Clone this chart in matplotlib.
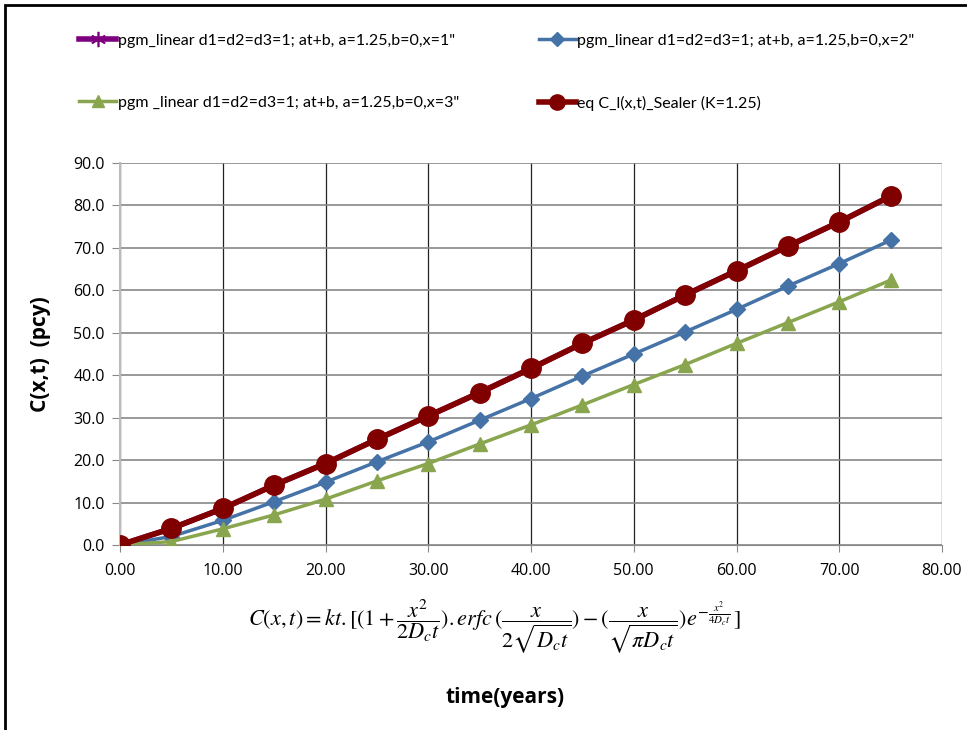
import matplotlib.pyplot as plt
from matplotlib.lines import Line2D
from matplotlib.patches import Rectangle

plt.rcParams['font.family'] = ['Open Sans', 'DejaVu Sans']
plt.rcParams['mathtext.fontset'] = 'stix'

# time (years)
t = [0, 5, 10, 15, 20, 25, 30, 35, 40, 45, 50, 55, 60, 65, 70, 75]

# pgm linear, x=1"  (same as the sealer equation)
c_x1 = [0.0, 3.9, 8.6, 14.1, 19.2, 24.9, 30.4, 35.9, 41.6, 47.5, 53.0, 58.9, 64.6, 70.4, 76.1, 82.2]
# pgm linear, x=2"
c_x2 = [0.0, 2.0, 5.8, 10.2, 14.8, 19.6, 24.3, 29.4, 34.5, 39.8, 45.0, 50.2, 55.5, 61.0, 66.3, 71.8]
# pgm linear, x=3"
c_x3 = [0.0, 0.8, 3.8, 7.1, 10.8, 15.1, 19.2, 23.8, 28.3, 33.0, 37.8, 42.5, 47.5, 52.4, 57.3, 62.4]
# eq C_l(x,t) Sealer
c_eq = [0.0, 3.9, 8.6, 14.1, 19.2, 24.9, 30.4, 35.9, 41.6, 47.5, 53.0, 58.9, 64.6, 70.4, 76.1, 82.2]

labels = ['pgm_linear d1=d2=d3=1; at+b, a=1.25,b=0,x=1"',
          'pgm_linear d1=d2=d3=1; at+b, a=1.25,b=0,x=2"',
          'pgm _linear d1=d2=d3=1; at+b, a=1.25,b=0,x=3"',
          'eq C_l(x,t)_Sealer (K=1.25)']

purple = '#7f007f'
blue = '#4573a7'
green = '#89a54e'
red = '#800000'

fig = plt.figure(figsize=(9.67, 7.30), dpi=100)
ax = fig.add_axes([120/967, 1 - 545/730, (942-120)/967, (545-163)/730])

ax.plot(t, c_x1, color=purple, lw=4, marker=(6, 2, 0), ms=13, mew=1.2, zorder=3)
ax.plot(t, c_x2, color=blue, lw=2.5, marker='D', ms=8, zorder=4)
ax.plot(t, c_x3, color=green, lw=2.5, marker='^', ms=10, zorder=4)
ax.plot(t, c_eq, color=red, lw=4, marker='o', ms=14, zorder=5)

ax.set_xlim(0, 80)
ax.set_ylim(0, 90)
ax.set_xticks(range(0, 81, 10))
ax.set_yticks(range(0, 91, 10))
ax.set_xticklabels(['%.2f' % v for v in range(0, 81, 10)], fontsize=11.5)
ax.set_yticklabels(['%.1f' % v for v in range(0, 91, 10)], fontsize=11.5)
ax.grid(axis='y', color='#888888', lw=1.2)
ax.grid(axis='x', color='#222222', lw=0.9)
ax.set_axisbelow(True)
for s in ['top', 'right']:
    ax.spines[s].set_visible(False)
ax.spines['left'].set_color('#bbbbbb')
ax.spines['left'].set_linewidth(1.5)
ax.spines['bottom'].set_color('#888888')
ax.tick_params(axis='y', length=6, color='#888888', pad=5)
ax.tick_params(axis='x', length=5, color='#888888', pad=8)
for lbl in ax.get_xticklabels() + ax.get_yticklabels():
    lbl.set_clip_on(False)

ax.set_ylabel('C(x,t)  (pcy)', fontsize=15, fontweight='bold', labelpad=16)

fig.text(495/967, 1 - 626/730,
         r'$C(x,t) = kt.[(1+\dfrac{x^2}{2D_ct}).erfc\,(\dfrac{x}{2\sqrt{D_ct}})-(\dfrac{x}{\sqrt{\pi D_ct}})e^{-\frac{x^2}{4D_ct}}\,]$',
         ha='center', va='center', fontsize=16)
fig.text(505/967, 1 - 698/730, 'time(years)', ha='center', va='center',
         fontsize=15, fontweight='bold')

handles = [
    Line2D([], [], color=purple, lw=4, marker=(6, 2, 0), ms=11, mew=1.2),
    Line2D([], [], color=blue, lw=2.5, marker='D', ms=7),
    Line2D([], [], color=green, lw=2.5, marker='^', ms=9),
    Line2D([], [], color=red, lw=4, marker='o', ms=11),
]
# legend fills column-wise, so reorder to get the row layout
order = [0, 2, 1, 3]
leg = fig.legend([handles[i] for i in order], [labels[i] for i in order],
                 loc='upper left', bbox_to_anchor=(65/967, 1 - 19/730),
                 ncol=2, frameon=False, handlelength=2.3,
                 handletextpad=0.1, columnspacing=5.0, labelspacing=3.0,
                 prop={'family': 'Lato', 'size': 11.5})

fig.patches.append(Rectangle((5/967, -0.1), 1.2, 1 - 5/730 + 0.1, transform=fig.transFigure,
                             fill=False, edgecolor='black', lw=2))

fig.savefig('out.png', dpi=100)
